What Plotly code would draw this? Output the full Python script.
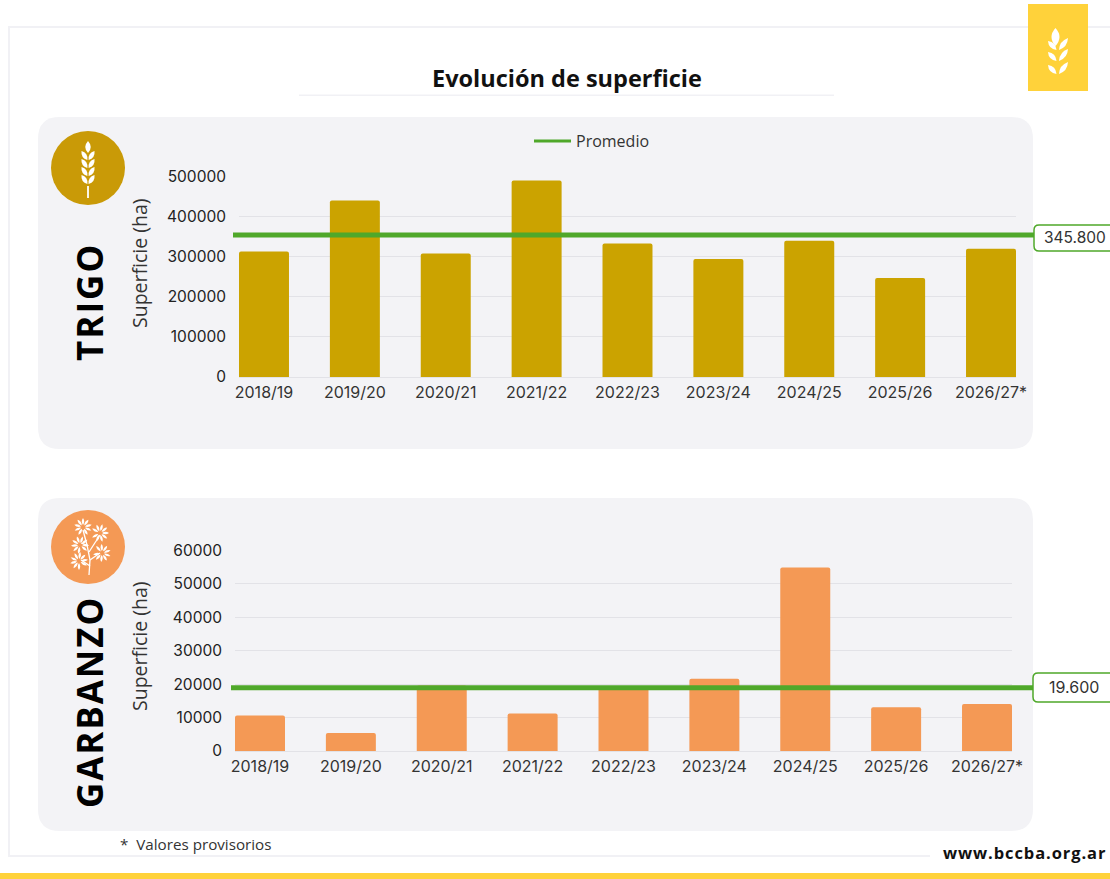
import math
import plotly.graph_objects as go
from plotly.subplots import make_subplots

W, H = 1110, 879
CAMPAIGNS = ["2018/19", "2019/20", "2020/21", "2021/22", "2022/23", "2023/24", "2024/25", "2025/26", "2026/27*"]
TRIGO = [313000, 440000, 308000, 490000, 333000, 294000, 340000, 247000, 320000]
GARBANZO = [10600, 5400, 19600, 11200, 19000, 21600, 54900, 13100, 14100]
TRIGO_LINE = 354000
GARBANZO_LINE = 18900
TRIGO_LABEL = "345.800"
GARBANZO_LABEL = "19.600"
TRIGO_TICKS = [0, 100000, 200000, 300000, 400000, 500000]
GARBANZO_TICKS = [0, 10000, 20000, 30000, 40000, 50000, 60000]

GOLD, ORANGE, GREEN, YELLOW = "#CBA300", "#F49955", "#4FA82A", "#FFD23A"
ICON_GOLD = "#C99A07"
PANEL, GRID, EDGE, INK = "#F3F3F6", "#E2E2E7", "#F1F1F5", "#222222"
SANS, TICK = "Open Sans", "Inter"


def spaced(word, px):
    gap = f'<span style="font-size:{px}px">\u200a</span>'
    return gap.join(word)


def fx(x):
    return x / W


def fy(y):
    return 1 - y / H


def pt(x, y):
    return f"{fx(x):.5f} {fy(y):.5f}"


def paper(**kw):
    return dict(xref="paper", yref="paper", **kw)


def box(x0, y0, x1, y1, color):
    return paper(type="rect", x0=fx(x0), x1=fx(x1), y0=fy(y0), y1=fy(y1),
                 fillcolor=color, line_width=0, layer="below")


def rounded(x0, y0, x1, y1, r, fill, line=None, layer="below"):
    d = (f"M{pt(x0 + r, y0)} L{pt(x1 - r, y0)} Q{pt(x1, y0)} {pt(x1, y0 + r)} "
         f"L{pt(x1, y1 - r)} Q{pt(x1, y1)} {pt(x1 - r, y1)} L{pt(x0 + r, y1)} "
         f"Q{pt(x0, y1)} {pt(x0, y1 - r)} L{pt(x0, y0 + r)} Q{pt(x0, y0)} {pt(x0 + r, y0)} Z")
    style = dict(color=line, width=1.5) if line else dict(width=0)
    return paper(type="path", path=d, fillcolor=fill, layer=layer, line=style)


def circle(cx, cy, r, color):
    return paper(type="circle", x0=fx(cx - r), x1=fx(cx + r), y0=fy(cy + r), y1=fy(cy - r),
                 fillcolor=color, line_width=0, layer="below")


def leaf(x0, y0, x1, y1, w, color="white"):
    dx, dy = x1 - x0, y1 - y0
    n = math.hypot(dx, dy) or 1
    nx, ny = -dy / n * w, dx / n * w
    mx, my = (x0 + x1) / 2, (y0 + y1) / 2
    d = f"M{pt(x0, y0)} Q{pt(mx + nx, my + ny)} {pt(x1, y1)} Q{pt(mx - nx, my - ny)} {pt(x0, y0)} Z"
    return paper(type="path", path=d, fillcolor=color, line_width=0, layer="above")


def stroke(points, width=1.3, color="white"):
    d = "M" + " L".join(pt(x, y) for x, y in points)
    return paper(type="path", path=d, line=dict(color=color, width=width), layer="above")


def cluster(cx, cy, start, spread=300, n=9, size=9):
    out = []
    for i in range(n):
        a = math.radians(start + spread * i / (n - 1))
        out.append(leaf(cx + math.cos(a) * 2, cy + math.sin(a) * 2,
                        cx + math.cos(a) * size, cy + math.sin(a) * size, 2.4))
    return out


shapes = [
    box(8, 26, 1110, 28, EDGE), box(8, 26, 10, 857, EDGE), box(8, 855, 930, 857, EDGE),
    box(299, 94.5, 834, 96, EDGE),
    box(1028, 4, 1088, 91, YELLOW), box(0, 873, W, H, YELLOW),
    rounded(38, 117, 1033, 449, 22, PANEL), rounded(38, 498, 1033, 831, 22, PANEL),
    circle(88, 168, 37, ICON_GOLD), circle(88, 547, 37, ORANGE),
]

# spike icon in the panel
shapes.append(leaf(88, 141, 88, 153, 5.5))
for y in (160, 168, 176, 184):
    shapes.append(leaf(87.4, y, 81.5, y - 9, 4.5))
    shapes.append(leaf(88.6, y, 94.5, y - 9, 4.5))
shapes.append(stroke([(88, 186), (88, 198)], 1.8))

# spike icon in the yellow tab
shapes.append(leaf(1055.5, 28, 1055.5, 46, 8))
for y in (50, 61, 74):
    shapes.append(leaf(1056.5, y, 1048, y - 9, 5))
    shapes.append(leaf(1059, y, 1068, y - 12, 5))

# plant icon
shapes += [
    stroke([(89, 575), (90, 560), (87, 545), (83, 530)]),
    stroke([(90, 560), (100, 553)]), stroke([(89, 552), (100, 535)]),
    stroke([(90, 566), (81, 560)]), stroke([(87, 545), (81, 543)]),
]
for c in ((83, 527, 120), (100, 533, 210), (80, 545, 100), (102, 553, 230), (79, 561, 90)):
    shapes += cluster(*c)

fig = make_subplots(rows=2, cols=1)


def add_panel(row, values, color, ticks, top, x0, x1, ybottom, ytop):
    fig.add_trace(go.Bar(x=list(range(len(CAMPAIGNS))), y=values, marker=dict(color=color, line_width=0),
                         width=0.55, showlegend=False, name="Superficie"), row=row, col=1)
    fig.update_xaxes(domain=[fx(x0), fx(x1)], range=[-0.275, 8.275], tickmode="array",
                     tickvals=list(range(len(CAMPAIGNS))), ticktext=CAMPAIGNS, showgrid=False,
                     zeroline=False, showline=False, ticks="", ticklabelstandoff=4, automargin=False,
                     tickfont=dict(family=TICK, size=16, color="#333333"), row=row, col=1)
    fig.update_yaxes(domain=[fy(ybottom), fy(ytop)], range=[0, top], tickmode="array", tickvals=ticks,
                     ticktext=[str(t) for t in ticks], showgrid=True, gridcolor=GRID, gridwidth=1,
                     zeroline=True, zerolinecolor=GRID, zerolinewidth=1, showline=False, ticks="",
                     ticklabelstandoff=12, automargin=False,
                     tickfont=dict(family=TICK, size=15.5, color="#222222"), row=row, col=1)


add_panel(1, TRIGO, GOLD, TRIGO_TICKS, 500000, 239, 1016, 377, 176.5)
add_panel(2, GARBANZO, ORANGE, GARBANZO_TICKS, 60000, 235, 1012, 751, 550.5)

fig.add_trace(go.Scatter(x=[None], y=[None], mode="lines", name="Promedio",
                         line=dict(color=GREEN, width=3), showlegend=True), row=1, col=1)

shapes.append(dict(type="line", xref="paper", yref="y", x0=fx(233), x1=fx(1034), y0=TRIGO_LINE, y1=TRIGO_LINE,
                   line=dict(color=GREEN, width=5), layer="above"))
shapes.append(dict(type="line", xref="paper", yref="y2", x0=fx(231), x1=fx(1034), y0=GARBANZO_LINE, y1=GARBANZO_LINE,
                   line=dict(color=GREEN, width=5), layer="above"))
shapes.append(rounded(1034, 225, 1125, 251, 5, "white", GREEN, "above"))
shapes.append(rounded(1033, 673, 1125, 702, 5, "white", GREEN, "above"))


def note(text, x, y, size, family=SANS, color=INK, bold=False, angle=0, anchor="center"):
    return paper(x=fx(x), y=fy(y), text=f"<b>{text}</b>" if bold else text, showarrow=False, textangle=angle,
                 xanchor=anchor, yanchor="middle", font=dict(family=family, size=size, color=color))


annotations = [
    note("Evolución de superficie", 566.5, 77.5, 23.5, color="#111111", bold=True),
    note(spaced("TRIGO", 20), 89, 303, 35, color="#000000", bold=True, angle=-90),
    note(spaced("GARBANZO", 19), 89, 703, 35, color="#000000", bold=True, angle=-90),
    note("Superficie (ha)", 139, 263, 19.5, angle=-90, color="#333333"),
    note("Superficie (ha)", 139, 646, 19.5, angle=-90, color="#333333"),
    note(TRIGO_LABEL, 1075, 238, 15.5, family=TICK, color="#333333"),
    note(GARBANZO_LABEL, 1074, 687, 16, family=TICK, color="#333333"),
    note("*  Valores provisorios", 118, 844, 15.2, color="#333333", anchor="left"),
    note(spaced("www.bccba.org.ar", 9), 941, 852, 16.5, color="#111111", bold=True, anchor="left"),
]

fig.update_layout(
    width=W, height=H, margin=dict(l=0, r=0, t=0, b=0), paper_bgcolor="white", plot_bgcolor="rgba(0,0,0,0)",
    shapes=shapes, annotations=annotations, barcornerradius=2, hovermode=False,
    legend=dict(x=fx(529), y=fy(141), xanchor="left", yanchor="middle", bgcolor="rgba(0,0,0,0)",
                font=dict(family=SANS, size=16, color="#333333"), itemwidth=37),
)
fig.write_html("out.html", config=dict(displayModeBar=False),
               post_script="document.body.style.margin='0';document.body.style.overflow='hidden';")
